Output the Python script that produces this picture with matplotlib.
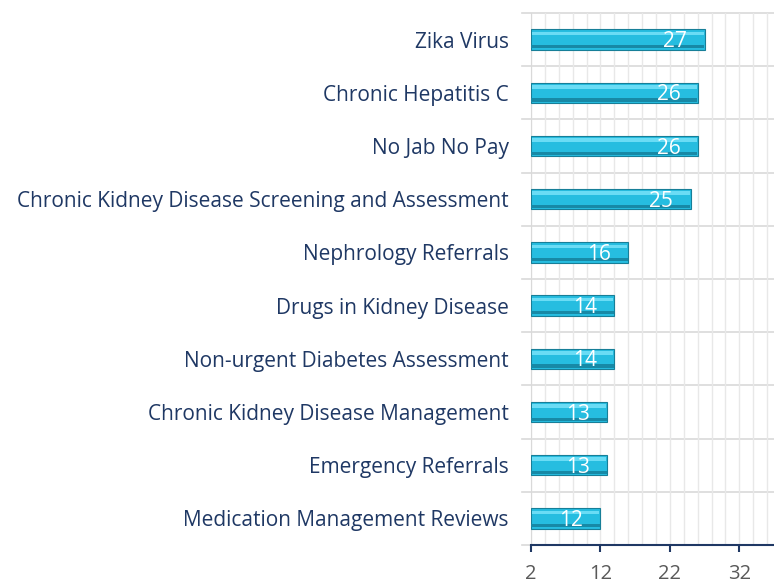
import numpy as np
from matplotlib import pyplot as plt
from matplotlib.ticker import MultipleLocator

categories = ["Zika Virus", "Chronic Hepatitis C", "No Jab No Pay",
              "Chronic Kidney Disease Screening and Assessment",
              "Nephrology Referrals", "Drugs in Kidney Disease",
              "Non-urgent Diabetes Assessment",
              "Chronic Kidney Disease Management",
              "Emergency Referrals", "Medication Management Reviews"]
values = [27, 26, 26, 25, 16, 14, 14, 13, 13, 12]
xticks = [2, 12, 22, 32]

plt.rcParams['font.family'] = ['Open Sans', 'DejaVu Sans']

fig = plt.figure(figsize=(7.74, 5.83), dpi=100)
ax = fig.add_axes([531/774, 38/583, 1 - 531/774, 532/583])

y = np.arange(len(categories))[::-1]
base = 2
w = np.array(values) - base
h = 0.38

# main bar, then a light top band and a darker bottom band (bevel look)
ax.barh(y, w, left=base, height=h, color='#26BDE0', edgecolor='#177F98',
        linewidth=0.8, zorder=3)
ax.barh(y + h*0.30, w - 0.3, left=base + 0.15, height=h*0.18,
        color='#6ADCF5', linewidth=0, zorder=4)
ax.barh(y - h*0.36, w - 0.1, left=base + 0.05, height=h*0.16,
        color='#1789A6', linewidth=0, zorder=4)

for yi, v in zip(y, values):
    ax.text(v - 2.5, yi - 0.04, str(v), color='white', fontsize=15,
            ha='right', va='center', zorder=5)

ax.set_xlim(2, 37)
ax.set_ylim(-0.5, len(categories) - 0.5)
ax.set_xticks(xticks)
ax.xaxis.set_minor_locator(MultipleLocator(2))
ax.set_yticks(y)
ax.set_yticklabels(categories, color='#1F3864', fontsize=15.0)
ax.tick_params(axis='y', length=0, pad=16)
ax.tick_params(axis='x', colors='#595959', labelsize=14.5, length=5, pad=9,
               color='#1F3864', width=1.5)
ax.tick_params(axis='x', which='minor', length=0)

ax.grid(axis='x', which='both', color='#E8E8E8', linewidth=1.0, zorder=0)
for b in np.arange(-0.5, len(categories), 1.0):
    ax.axhline(b, color='#D9D9D9', linewidth=1.2, xmin=-0.035, clip_on=False, zorder=1)

for s in ['top', 'right']:
    ax.spines[s].set_visible(False)
ax.spines['left'].set_color('#D9D9D9')
ax.spines['bottom'].set_color('#1F3864')
ax.spines['bottom'].set_linewidth(1.5)
ax.spines['bottom'].set_zorder(6)

plt.savefig('out.png', dpi=100)
